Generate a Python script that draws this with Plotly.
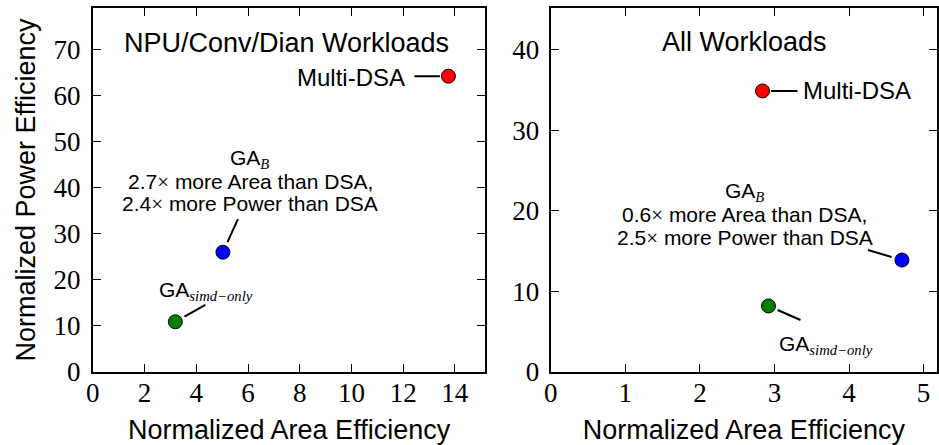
import math
import plotly.graph_objects as go

# ---- data ----
labels = ["Multi-DSA", "GA_B", "GA_simd-only"]
colors = ["#ff0000", "#0000ff", "#008000"]

npu_area = [13.75, 5.03, 3.19]
npu_power = [64.2, 26.0, 10.9]

all_area = [2.84, 4.71, 2.92]
all_power = [34.9, 13.9, 8.2]

left_xticks = [0, 2, 4, 6, 8, 10, 12, 14]
left_yticks = [0, 10, 20, 30, 40, 50, 60, 70]
right_xticks = [0, 1, 2, 3, 4, 5]
right_yticks = [0, 10, 20, 30, 40]

SANS = "Liberation Sans"
SERIF = "Liberation Serif"
TIMES = "<span style='font-family:Liberation Serif'>×</span>"


def sub(s):
    return "<sub><span style='font-family:Liberation Serif'><i>%s</i></span></sub>" % s


GA_B = "GA" + sub("B")
GA_S = "GA" + sub("simd−only")

fig = go.Figure()
fig.add_trace(go.Scatter(x=npu_area, y=npu_power, mode="markers", xaxis="x", yaxis="y",
                         marker=dict(size=14, color=colors, line=dict(color="black", width=1)),
                         showlegend=False, hoverinfo="skip"))
fig.add_trace(go.Scatter(x=all_area, y=all_power, mode="markers", xaxis="x2", yaxis="y2",
                         marker=dict(size=14, color=colors, line=dict(color="black", width=1)),
                         showlegend=False, hoverinfo="skip"))

axis_common = dict(showline=True, linewidth=2, linecolor="black", mirror="ticks",
                   ticks="inside", ticklen=8, tickwidth=1, tickcolor="black",
                   showgrid=False, zeroline=False,
                   tickfont=dict(family=SERIF, size=27, color="black"))

fig.update_layout(
    width=939, height=445,
    margin=dict(l=0, r=0, t=8, b=73),
    paper_bgcolor="white", plot_bgcolor="white",
    font=dict(family=SANS, color="black"),
    xaxis=dict(domain=[86.7 / 939, 483 / 939], range=[0, 15.18], tickvals=left_xticks,
               ticklabelstandoff=-4,
               title=dict(text="Normalized Area Efficiency", font=dict(family=SANS, size=27), standoff=13),
               anchor="y", **axis_common),
    yaxis=dict(domain=[0, 1], range=[0, 79], tickvals=left_yticks,
               ticklabelstandoff=5,
               title=dict(text="Normalized Power Efficiency", font=dict(family=SANS, size=27), standoff=10),
               anchor="x", **axis_common),
    xaxis2=dict(domain=[549 / 939, 1.0], range=[0, 5.18], tickvals=right_xticks,
                ticklabelstandoff=-4,
                title=dict(text="Normalized Area Efficiency", font=dict(family=SANS, size=27), standoff=13),
                anchor="y2", **axis_common),
    yaxis2=dict(domain=[0, 1], range=[0, 45.2], tickvals=right_yticks,
                ticklabelstandoff=4,
                anchor="x2", **axis_common),
)

big_font = dict(family=SANS, size=24, color="black")
small_font = dict(family=SANS, size=21, color="black")


def text_ann(text, xr, yr, x, y, dx, dy, xanchor="center", font=small_font):
    return dict(text=text, xref=xr, yref=yr, x=x, y=y, xshift=dx, yshift=dy,
                xanchor=xanchor, yanchor="middle", showarrow=False, font=font, borderpad=0)


def leader(xr, yr, x, y, dx, dy, gap):
    # line anchored at the data point; (dx, dy) = far end in px (screen, y down), gap = px from point centre
    L = math.hypot(dx, dy)
    ex, ey = dx * gap / L, dy * gap / L
    return dict(type="line", xref=xr, yref=yr, xsizemode="pixel", ysizemode="pixel",
                xanchor=x, yanchor=y, x0=ex, y0=-ey, x1=dx, y1=-dy,
                line=dict(color="black", width=2))


annotations = [
    # panel titles
    dict(text="NPU/Conv/Dian Workloads", xref="x", yref="y", x=7.5, y=71.5, showarrow=False,
         font=dict(family=SANS, size=27, color="black")),
    dict(text="All Workloads", xref="x2", yref="y2", x=2.6, y=41.0, showarrow=False,
         font=dict(family=SANS, size=27, color="black")),
    # left panel labels
    text_ann("Multi-DSA", "x", "y", npu_area[0], npu_power[0], -42, -1, "right", big_font),
    text_ann(GA_B, "x", "y", npu_area[1], npu_power[1], 27, 93),
    text_ann("2.7" + TIMES + " more Area than DSA,", "x", "y", npu_area[1], npu_power[1], 27.5, 70.5),
    text_ann("2.4" + TIMES + " more Power than DSA", "x", "y", npu_area[1], npu_power[1], 27.5, 48),
    text_ann(GA_S, "x", "y", npu_area[2], npu_power[2], -17, 31, "left"),
    # right panel labels
    text_ann("Multi-DSA", "x2", "y2", all_area[0], all_power[0], 39, 0, "left", big_font),
    text_ann(GA_B, "x2", "y2", all_area[1], all_power[1], -157, 68.5),
    text_ann("0.6" + TIMES + " more Area than DSA,", "x2", "y2", all_area[1], all_power[1], -157, 45),
    text_ann("2.5" + TIMES + " more Power than DSA", "x2", "y2", all_area[1], all_power[1], -157, 22.5),
    text_ann(GA_S, "x2", "y2", all_area[2], all_power[2], 10, -39, "left"),
]

shapes = [
    leader("x", "y", npu_area[0], npu_power[0], -34, 0, 8.5),
    leader("x", "y", npu_area[1], npu_power[1], 15, -33, 11),
    leader("x", "y", npu_area[2], npu_power[2], 30, -17, 10.5),
    leader("x2", "y2", all_area[0], all_power[0], 35, 0, 8.5),
    leader("x2", "y2", all_area[1], all_power[1], -34, -10, 10.8),
    leader("x2", "y2", all_area[2], all_power[2], 32, 14, 10),
]
fig.update_layout(annotations=annotations, shapes=shapes)

fig.write_html("out.html")
